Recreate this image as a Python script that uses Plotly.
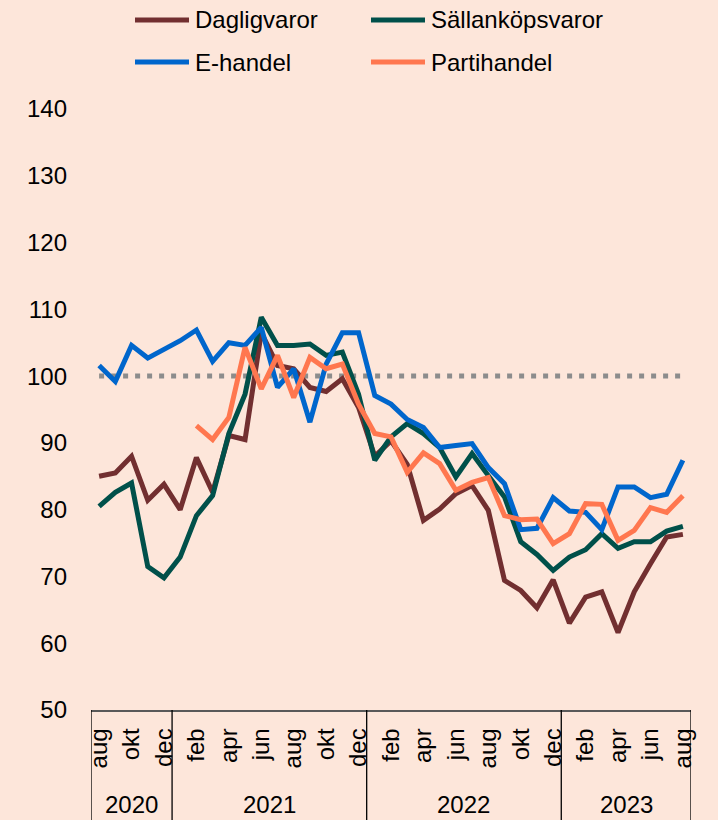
import plotly.graph_objects as go

# ---- data -------------------------------------------------------------
month_names = ["jan", "feb", "mar", "apr", "maj", "jun", "jul", "aug", "sep", "okt", "nov", "dec"]
periods = [f"{month_names[(7 + i) % 12]} {2020 + (7 + i) // 12}" for i in range(37)]  # aug 2020 .. aug 2023

dagligvaror = [85.0, 85.5, 88.0, 81.4, 83.8, 80.0, 87.8, 82.6, 91.1, 90.5, 106.5, 101.6, 101.1,
               98.3, 97.7, 99.6, 95.3, 88.0, 90.3, 86.8, 78.4, 80.1, 82.4, 83.6, 79.9, 69.4,
               67.9, 65.3, 69.5, 63.0, 66.9, 67.7, 61.6, 67.7, 71.9, 75.9, 76.3]
sallankopsvaror = [80.5, 82.6, 84.0, 71.5, 69.8, 72.9, 79.1, 82.1, 91.4, 97.3, 108.8, 104.6, 104.6,
                   104.8, 103.1, 103.6, 97.3, 87.4, 90.9, 92.9, 91.4, 89.3, 84.9, 88.4, 85.1, 81.9,
                   75.2, 73.3, 70.9, 72.9, 74.0, 76.4, 74.2, 75.2, 75.2, 76.8, 77.5]
ehandel = [101.6, 99.2, 104.6, 102.7, 104.0, 105.3, 106.9, 102.2, 105.0, 104.6, 107.3, 98.3, 101.1,
           93.1, 101.8, 106.5, 106.5, 97.1, 95.8, 93.5, 92.3, 89.3, 89.6, 89.9, 86.3, 83.9,
           77.0, 77.2, 81.8, 79.8, 79.6, 77.0, 83.4, 83.4, 81.8, 82.3, 87.4]
partihandel = [None, None, None, None, None, None, 92.6, 90.5, 93.8, 104.3, 98.1, 103.1, 96.8,
               102.8, 101.1, 101.8, 95.8, 91.4, 90.9, 85.6, 88.5, 86.9, 82.9, 84.1, 84.8, 79.1,
               78.5, 78.6, 74.9, 76.4, 80.9, 80.8, 75.4, 76.9, 80.3, 79.6, 82.1]
reference_level = 100

year_labels = ["2020", "2021", "2022", "2023"]
year_bounds = [-0.5, 4.5, 16.5, 28.5, 36.5]   # category-index boundaries of the year groups

tick_vals = periods[::2]
tick_text = [p.split()[0] for p in tick_vals]

series = [
    ("Dagligvaror", dagligvaror, "#722F30"),
    ("Sällanköpsvaror", sallankopsvaror, "#00504A"),
    ("E-handel", ehandel, "#0066CC"),
    ("Partihandel", partihandel, "#FF774F"),
]

# ---- layout geometry ---------------------------------------------------
W, H = 718, 820
L, R, T, B = 91, 27, 109, 110
PW, PH = W - L - R, H - T - B
BG = "#FDE6DA"
FONT = "Arial, 'Liberation Sans', sans-serif"


def px_x(px):
    return (px - L) / PW


def px_y(py):
    return (H - B - py) / PH


fig = go.Figure()
for name, vals, col in series:
    fig.add_trace(go.Scatter(x=periods, y=vals, name=name, mode="lines",
                             line=dict(color=col, width=5), connectgaps=False,
                             showlegend=False))

shapes = []
annotations = []

# dotted 100-line
shapes.append(dict(type="line", xref="x", yref="y", x0=0, x1=len(periods) - 1,
                   y0=reference_level, y1=reference_level, layer="below",
                   line=dict(color="#8C8C8C", width=5, dash="5px,7px")))

# year group separators and labels
for b in year_bounds:
    shapes.append(dict(type="line", xref="x", yref="paper", x0=b, x1=b, y0=0, y1=px_y(H + 5),
                       line=dict(color="#000000", width=1.3)))
for i, yl in enumerate(year_labels):
    annotations.append(dict(text=yl, xref="x", yref="paper",
                            x=(year_bounds[i] + year_bounds[i + 1]) / 2, y=px_y(804),
                            showarrow=False, xanchor="center", yanchor="middle",
                            font=dict(size=24, color="#000000", family=FONT)))

# legend (two columns)
leg_pos = [(135, 20), (371, 20), (135, 62), (371, 62)]
for (name, vals, col), (lx, ly) in zip(series, leg_pos):
    shapes.append(dict(type="line", xref="paper", yref="paper",
                       x0=px_x(lx), x1=px_x(lx + 54), y0=px_y(ly), y1=px_y(ly),
                       line=dict(color=col, width=5)))
    annotations.append(dict(text=name, xref="paper", yref="paper",
                            x=px_x(lx + 58), y=px_y(ly), showarrow=False,
                            xanchor="left", yanchor="middle",
                            font=dict(size=24, color="#000000", family=FONT)))

fig.update_layout(
    width=W, height=H, autosize=False,
    margin=dict(l=L, r=R, t=T, b=B, pad=0),
    paper_bgcolor=BG, plot_bgcolor=BG,
    font=dict(family=FONT, size=24, color="#000000"),
    shapes=shapes, annotations=annotations,
    showlegend=False,
    xaxis=dict(type="category", categoryorder="array", categoryarray=periods,
               range=[-0.5, len(periods) - 0.5],
               tickmode="array", tickvals=tick_vals, ticktext=tick_text,
               tickangle=-90, ticks="", showgrid=False, zeroline=False,
               showline=True, linecolor="#595959", linewidth=1.5,
               ticklabelstandoff=7, tickfont=dict(size=24)),
    yaxis=dict(range=[50, 140], dtick=10, tick0=50, ticks="", showgrid=False,
               zeroline=False, showline=False, ticklabelstandoff=23,
               tickfont=dict(size=24)),
)

fig.write_html("out.html", config={"displayModeBar": False},
               post_script="document.body.style.margin='0';document.body.style.overflow='hidden';")
